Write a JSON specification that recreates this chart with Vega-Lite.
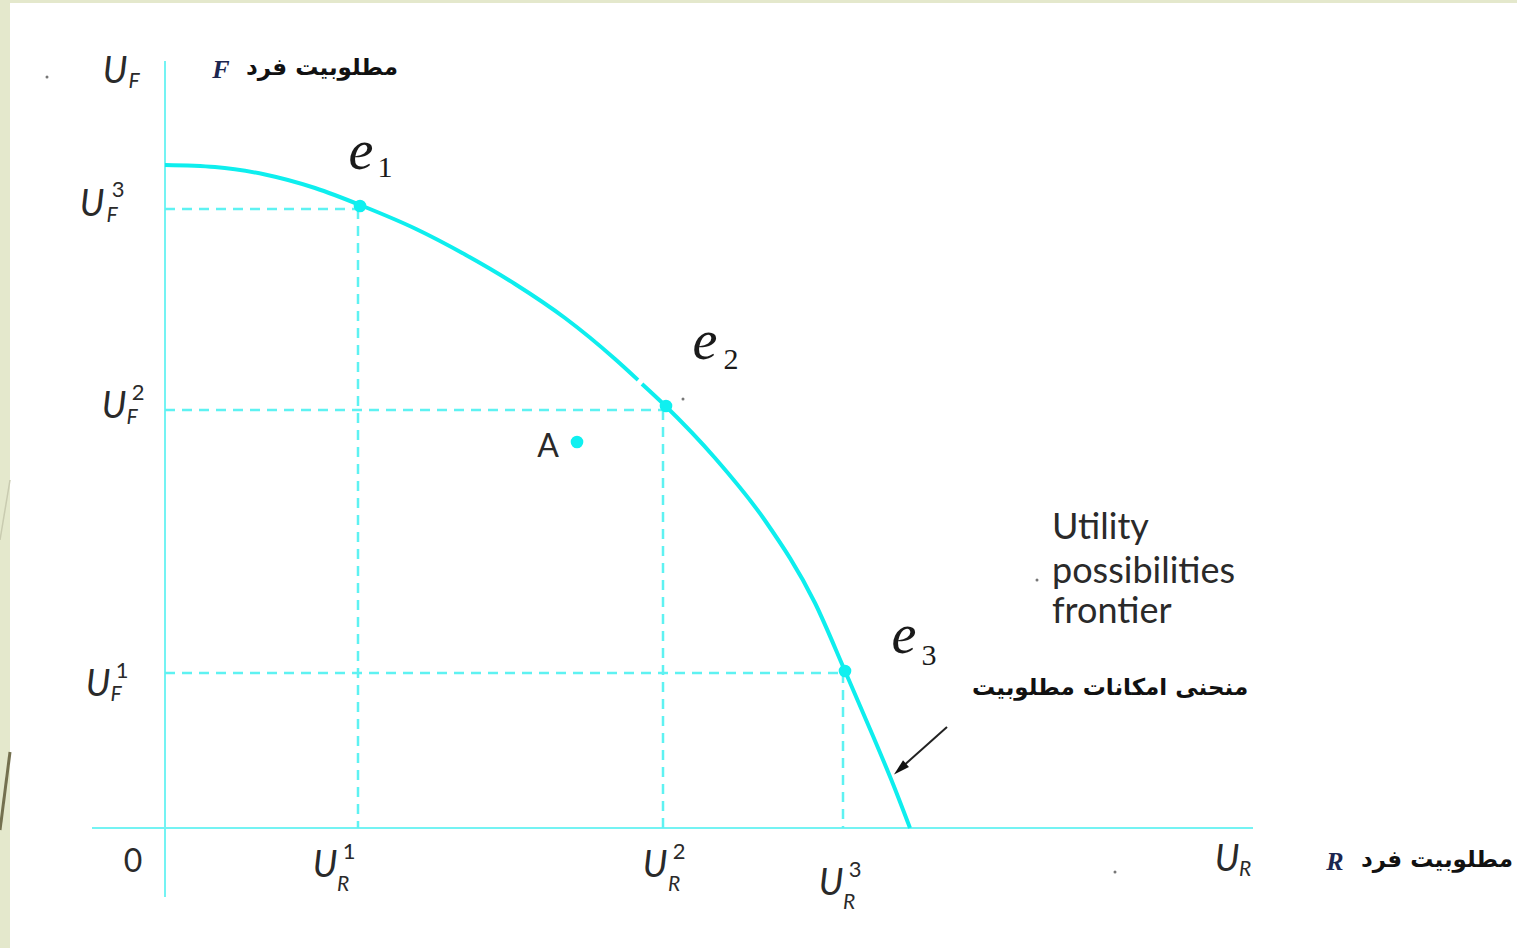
{
  "$schema": "https://vega.github.io/schema/vega-lite/v6.json",
  "width": 1517,
  "height": 948,
  "padding": 0,
  "autosize": {"type": "none"},
  "background": "white",
  "config": {"view": {"stroke": null}},
  "datasets": {
    "strips": [
      {"ur": -1.65, "ur2": -1.55, "uf": -1.2, "uf2": 8.28},
      {"ur": -1.65, "ur2": 13.52, "uf": 8.25, "uf2": 8.28}
    ],
    "deco": [
      {"ur": -1.55, "uf": 0.76, "ur2": -1.65, "uf2": -0.02, "shade": "dark"},
      {"ur": -1.55, "uf": 3.48, "ur2": -1.65, "uf2": 2.88, "shade": "light"}
    ],
    "axes": [
      {"ur": 0, "uf": -0.69, "ur2": 0, "uf2": 7.67},
      {"ur": -0.73, "uf": 0, "ur2": 10.88, "uf2": 0}
    ],
    "guides": [
      {"ur": 0, "uf": 6.19, "ur2": 1.93, "uf2": 6.19},
      {"ur": 1.93, "uf": 6.19, "ur2": 1.93, "uf2": 0},
      {"ur": 0, "uf": 4.18, "ur2": 4.98, "uf2": 4.18},
      {"ur": 4.98, "uf": 4.18, "ur2": 4.98, "uf2": 0},
      {"ur": 0, "uf": 1.55, "ur2": 6.78, "uf2": 1.55},
      {"ur": 6.78, "uf": 1.55, "ur2": 6.78, "uf2": 0}
    ],
    "frontier": [
      {"seg": "a", "ur": 0, "uf": 6.63},
      {"seg": "a", "ur": 0.5, "uf": 6.61},
      {"seg": "a", "ur": 1.0, "uf": 6.535},
      {"seg": "a", "ur": 1.5, "uf": 6.4},
      {"seg": "a", "ur": 2.0, "uf": 6.21},
      {"seg": "a", "ur": 2.5, "uf": 5.995},
      {"seg": "a", "ur": 3.0, "uf": 5.735},
      {"seg": "a", "ur": 3.5, "uf": 5.44},
      {"seg": "a", "ur": 4.0, "uf": 5.1},
      {"seg": "a", "ur": 4.5, "uf": 4.69},
      {"seg": "a", "ur": 4.73, "uf": 4.48},
      {"seg": "b", "ur": 4.77, "uf": 4.44},
      {"seg": "b", "ur": 5.0, "uf": 4.225},
      {"seg": "b", "ur": 5.5, "uf": 3.7},
      {"seg": "b", "ur": 6.0, "uf": 3.075},
      {"seg": "b", "ur": 6.5, "uf": 2.25},
      {"seg": "b", "ur": 6.8, "uf": 1.57},
      {"seg": "b", "ur": 7.08, "uf": 0.92},
      {"seg": "b", "ur": 7.28, "uf": 0.44},
      {"seg": "b", "ur": 7.45, "uf": 0}
    ],
    "allocations": [
      {"name": "e1", "ur": 1.95, "uf": 6.22},
      {"name": "e2", "ur": 5.01, "uf": 4.22},
      {"name": "e3", "ur": 6.8, "uf": 1.57},
      {"name": "A", "ur": 4.12, "uf": 3.86}
    ],
    "specks": [
      {"ur": -1.18, "uf": 7.51},
      {"ur": 5.18, "uf": 4.29},
      {"ur": 9.5, "uf": -0.44},
      {"ur": 8.72, "uf": 2.48}
    ],
    "arrow": [
      {"ur": 7.82, "uf": 1.01, "ur2": 7.36, "uf2": 0.6}
    ],
    "arrowHead": [
      {"ur": 7.35, "uf": 0.59}
    ],
    "uMain": [
      {"t": "U", "ur": -0.5, "uf": 7.56},
      {"t": "U", "ur": -0.73, "uf": 6.23},
      {"t": "U", "ur": -0.51, "uf": 4.21},
      {"t": "U", "ur": -0.67, "uf": 1.43},
      {"t": "U", "ur": 1.6, "uf": -0.38},
      {"t": "U", "ur": 4.9, "uf": -0.38},
      {"t": "U", "ur": 6.66, "uf": -0.56},
      {"t": "U", "ur": 10.62, "uf": -0.32}
    ],
    "uSub": [
      {"t": "F", "ur": -0.31, "uf": 7.46},
      {"t": "F", "ur": -0.53, "uf": 6.12},
      {"t": "F", "ur": -0.33, "uf": 4.1},
      {"t": "F", "ur": -0.49, "uf": 1.33},
      {"t": "R", "ur": 1.78, "uf": -0.57},
      {"t": "R", "ur": 5.09, "uf": -0.57},
      {"t": "R", "ur": 6.84, "uf": -0.75},
      {"t": "R", "ur": 10.8, "uf": -0.42}
    ],
    "uSup": [
      {"t": "3", "ur": -0.47, "uf": 6.38},
      {"t": "2", "ur": -0.27, "uf": 4.35},
      {"t": "1", "ur": -0.43, "uf": 1.57},
      {"t": "1", "ur": 1.84, "uf": -0.24},
      {"t": "2", "ur": 5.14, "uf": -0.24},
      {"t": "3", "ur": 6.9, "uf": -0.42}
    ],
    "plain": [
      {"t": "0", "ur": -0.32, "uf": -0.34},
      {"t": "A", "ur": 3.83, "uf": 3.81}
    ],
    "eMain": [
      {"t": "e", "ur": 1.96, "uf": 6.76},
      {"t": "e", "ur": 5.4, "uf": 4.86},
      {"t": "e", "ur": 7.39, "uf": 1.92}
    ],
    "eSub": [
      {"t": "1", "ur": 2.2, "uf": 6.6},
      {"t": "2", "ur": 5.66, "uf": 4.68},
      {"t": "3", "ur": 7.64, "uf": 1.72}
    ],
    "frontierName": [
      {"t": "Utility", "ur": 8.87, "uf": 3.0},
      {"t": "possibilities", "ur": 8.87, "uf": 2.56},
      {"t": "frontier", "ur": 8.87, "uf": 2.16}
    ],
    "persian": [
      {"t": "منحنی امکانات مطلوبیت", "ur": 9.45, "uf": 1.4},
      {"t": "مطلوبیت فرد", "ur": 1.57, "uf": 7.6},
      {"t": "مطلوبیت فرد", "ur": 12.72, "uf": -0.32}
    ],
    "persons": [
      {"t": "F", "ur": 0.56, "uf": 7.58},
      {"t": "R", "ur": 11.7, "uf": -0.34}
    ]
  },
  "encoding": {
    "x": {"field": "ur", "type": "quantitative", "scale": {"domain": [-1.65, 13.52], "nice": false, "zero": false}, "axis": null},
    "y": {"field": "uf", "type": "quantitative", "scale": {"domain": [-1.2, 8.28], "nice": false, "zero": false}, "axis": null}
  },
  "layer": [
    {
      "data": {"name": "strips"},
      "mark": {"type": "rect", "color": "#e4e8cc"},
      "encoding": {"x2": {"field": "ur2"}, "y2": {"field": "uf2"}}
    },
    {
      "data": {"name": "deco"},
      "mark": {"type": "rule"},
      "encoding": {
        "x2": {"field": "ur2"}, "y2": {"field": "uf2"},
        "color": {"field": "shade", "type": "nominal", "scale": {"domain": ["dark", "light"], "range": ["#74704f", "#c9cbb0"]}, "legend": null},
        "strokeWidth": {"field": "shade", "type": "nominal", "scale": {"domain": ["dark", "light"], "range": [3, 1.5]}, "legend": null}
      }
    },
    {
      "data": {"name": "axes"},
      "mark": {"type": "rule", "color": "#74f3f3", "strokeWidth": 2},
      "encoding": {"x2": {"field": "ur2"}, "y2": {"field": "uf2"}}
    },
    {
      "data": {"name": "guides"},
      "mark": {"type": "rule", "color": "#5ef2f2", "strokeWidth": 2.5, "strokeDash": [10, 7]},
      "encoding": {"x2": {"field": "ur2"}, "y2": {"field": "uf2"}}
    },
    {
      "data": {"name": "frontier"},
      "mark": {"type": "line", "color": "#0eeeee", "strokeWidth": 4, "interpolate": "monotone"},
      "encoding": {"detail": {"field": "seg"}}
    },
    {
      "data": {"name": "allocations"},
      "mark": {"type": "point", "filled": true, "color": "#0ff0f0", "size": 160, "opacity": 1}
    },
    {
      "data": {"name": "specks"},
      "mark": {"type": "point", "filled": true, "color": "#555555", "size": 9, "opacity": 0.8}
    },
    {
      "data": {"name": "arrow"},
      "mark": {"type": "rule", "color": "#222222", "strokeWidth": 2},
      "encoding": {"x2": {"field": "ur2"}, "y2": {"field": "uf2"}}
    },
    {
      "data": {"name": "arrowHead"},
      "mark": {"type": "point", "filled": true, "color": "#111111", "opacity": 1, "shape": "M0,-1L0.55,1L-0.55,1Z", "size": 260, "angle": 228}
    },
    {
      "data": {"name": "uMain"},
      "mark": {"type": "text", "font": "Lato", "fontStyle": "italic", "fontSize": 36, "color": "#2a2a2a", "align": "center", "baseline": "middle"},
      "encoding": {"text": {"field": "t"}}
    },
    {
      "data": {"name": "uSub"},
      "mark": {"type": "text", "font": "Lato", "fontStyle": "italic", "fontSize": 21, "color": "#2a2a2a", "align": "center", "baseline": "middle"},
      "encoding": {"text": {"field": "t"}}
    },
    {
      "data": {"name": "uSup"},
      "mark": {"type": "text", "font": "Lato", "fontSize": 22, "color": "#2a2a2a", "align": "center", "baseline": "middle"},
      "encoding": {"text": {"field": "t"}}
    },
    {
      "data": {"name": "plain"},
      "mark": {"type": "text", "font": "Lato", "fontSize": 32, "color": "#2a2a2a", "align": "center", "baseline": "middle"},
      "encoding": {"text": {"field": "t"}}
    },
    {
      "data": {"name": "eMain"},
      "mark": {"type": "text", "font": "Liberation Serif", "fontStyle": "italic", "fontSize": 56, "color": "#1a1a1a", "align": "center", "baseline": "middle"},
      "encoding": {"text": {"field": "t"}}
    },
    {
      "data": {"name": "eSub"},
      "mark": {"type": "text", "font": "Liberation Serif", "fontSize": 30, "color": "#1a1a1a", "align": "center", "baseline": "middle"},
      "encoding": {"text": {"field": "t"}}
    },
    {
      "data": {"name": "frontierName"},
      "mark": {"type": "text", "font": "Lato", "fontSize": 36, "color": "#2a2a2a", "align": "left", "baseline": "middle"},
      "encoding": {"text": {"field": "t"}}
    },
    {
      "data": {"name": "persian"},
      "mark": {"type": "text", "font": "DejaVu Sans", "fontWeight": "bold", "fontSize": 23, "color": "#111111", "align": "center", "baseline": "middle"},
      "encoding": {"text": {"field": "t"}}
    },
    {
      "data": {"name": "persons"},
      "mark": {"type": "text", "font": "Liberation Serif", "fontStyle": "italic", "fontWeight": "bold", "fontSize": 26, "color": "#1c2650", "align": "center", "baseline": "middle"},
      "encoding": {"text": {"field": "t"}}
    }
  ]
}
